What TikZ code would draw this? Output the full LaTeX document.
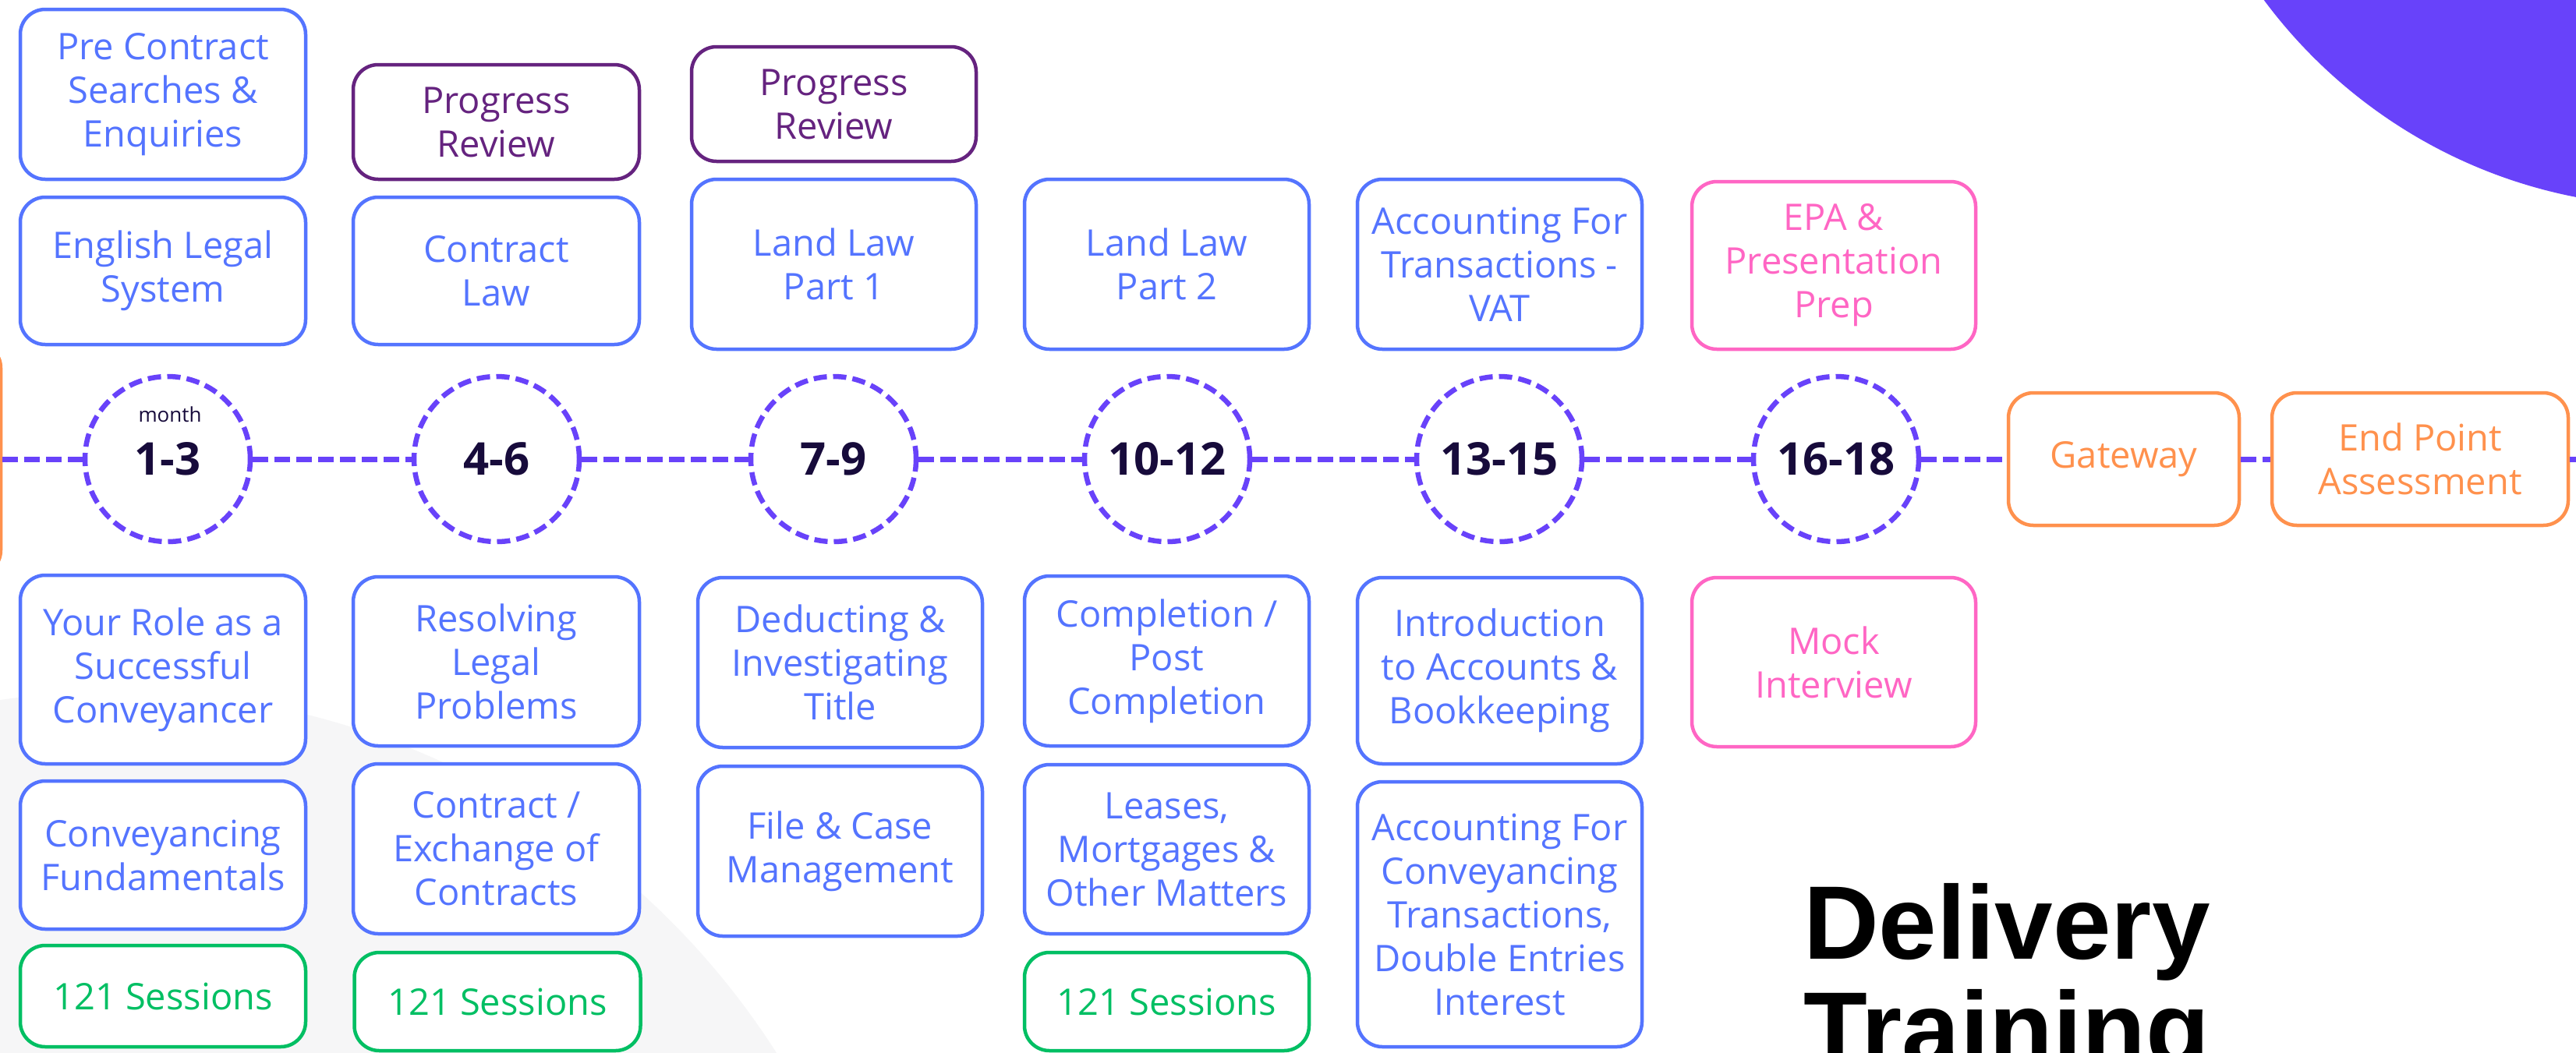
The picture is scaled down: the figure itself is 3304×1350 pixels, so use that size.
\documentclass[tikz,border=0pt]{standalone}
\usepackage{fontspec}
\setmainfont{Open Sans}
\newfontfamily\titlefont{Liberation Sans}
\definecolor{cblue}{HTML}{5474FF}
\definecolor{cpurple}{HTML}{65237F}
\definecolor{cpink}{HTML}{FF66C4}
\definecolor{cgreen}{HTML}{00BF63}
\definecolor{corange}{HTML}{FF914D}
\definecolor{cviolet}{HTML}{6842FA}
\definecolor{cnavy}{HTML}{170B3B}
\definecolor{cgray}{HTML}{F6F6F7}
\begin{document}
\begin{tikzpicture}[x=1pt,y=-1pt,
  box/.style={draw, line width=4.5pt, rounded corners=32pt, fill=white, align=center,
    inner sep=0pt, font=\fontsize{47}{56}\selectfont},
  bluebox/.style={box, draw=cblue, text=cblue},
  purplebox/.style={box, draw=cpurple, text=cpurple},
  pinkbox/.style={box, draw=cpink, text=cpink},
  greenbox/.style={box, draw=cgreen, text=cgreen},
  orangebox/.style={box, draw=corange, text=corange},
  month/.style={circle, draw=cviolet, line width=6.5pt, dash pattern=on 17pt off 8pt,
    minimum size=212pt, inner sep=0pt, fill=white, text=cnavy,
    font=\fontsize{58}{60}\selectfont\bfseries},
  tl/.style={draw=cviolet, line width=7pt, dash pattern=on 20pt off 8pt}
]
\useasboundingbox (0,0) rectangle (3304,1350);
\clip (0,0) rectangle (3304,1350);
\fill[white] (0,0) rectangle (3304,1350);
\fill[cgray] (150,1890) circle[radius=1003];
\fill[cviolet] (3430,-390) circle[radius=655];

% column 1
\node[bluebox, minimum width=366pt, minimum height=218pt] (a1) at (209,121) {Pre Contract\\Searches \&\\Enquiries};
\node[bluebox, minimum width=366pt, minimum height=189pt] (a2) at (209,347.5) {English Legal\\System};
\node[bluebox, minimum width=366pt, minimum height=242pt] (a3) at (209,859) {Your Role as a\\Successful\\Conveyancer};
\node[bluebox, minimum width=366pt, minimum height=190pt] (a4) at (209,1097) {Conveyancing\\Fundamentals};
\node[greenbox, minimum width=366pt, minimum height=130pt] (a5) at (209,1278) {121 Sessions};
% column 2
\node[purplebox, minimum width=367pt, minimum height=147pt] (b1) at (636.5,156.5) {Progress\\Review};
\node[bluebox, minimum width=367pt, minimum height=189pt] (b2) at (636.5,347.5) {Contract\\Law};
\node[bluebox, minimum width=367pt, minimum height=217pt] (b3) at (636.5,848.5) {Resolving\\Legal\\Problems};
\node[bluebox, minimum width=367pt, minimum height=218pt] (b4) at (636.5,1089) {Contract /\\Exchange of\\Contracts};
\node[greenbox, minimum width=367pt, minimum height=126pt] (b5) at (638,1285) {121 Sessions};
% column 3
\node[purplebox, minimum width=365pt, minimum height=147pt] (c1b) at (1069.5,133.5) {Progress\\Review};
\node[bluebox, minimum width=365pt, minimum height=218pt] (c2) at (1069.5,339) {Land Law\\Part 1};
\node[bluebox, minimum width=365pt, minimum height=218pt] (c3) at (1077.5,850) {Deducting \&\\Investigating\\Title};
\node[bluebox, minimum width=365pt, minimum height=218pt] (c4) at (1077.5,1092) {File \& Case\\Management};
% column 4
\node[bluebox, minimum width=365pt, minimum height=218pt] (d1) at (1496.5,339) {Land Law\\Part 2};
\node[bluebox, minimum width=365pt, minimum height=218pt] (d2) at (1496.5,848) {Completion /\\Post\\Completion};
\node[bluebox, minimum width=365pt, minimum height=217pt] (d3) at (1496.5,1089.5) {Leases,\\Mortgages \&\\Other Matters};
\node[greenbox, minimum width=365pt, minimum height=126pt] (d4) at (1496.5,1285) {121 Sessions};
% column 5
\node[bluebox, minimum width=365pt, minimum height=218pt] (e1) at (1923.5,339) {Accounting For\\Transactions -\\VAT};
\node[bluebox, minimum width=365pt, minimum height=239pt] (e2) at (1923.5,860.5) {Introduction\\to Accounts \&\\Bookkeeping};
\node[bluebox, minimum width=365pt, minimum height=340pt] (e3) at (1923.5,1173) {Accounting For\\Conveyancing\\Transactions,\\Double Entries\\Interest};
% column 6
\node[pinkbox, minimum width=364pt, minimum height=215pt] (f1) at (2352,340.5) {EPA \&\\Presentation\\Prep};
\node[pinkbox, minimum width=364pt, minimum height=217pt] (f2) at (2352,849.5) {Mock\\Interview};

% timeline
\node[orangebox, minimum width=300pt, minimum height=298pt] (start) at (-149,589) {};
\node[month] (m1) at (215,589) {1-3};
\node[month] (m2) at (637,589) {4-6};
\node[month] (m3) at (1069,589) {7-9};
\node[month] (m4) at (1497,589) {10-12};
\node[month] (m5) at (1923,589) {13-15};
\node[month] (m6) at (2355,589) {16-18};
\node[text=cnavy, font=\fontsize{26}{28}\selectfont, inner sep=0pt] (mlabel) at (218,532) {month};
\node[orangebox, minimum width=296pt, minimum height=170pt] (gw) at (2724,589) {Gateway};
\node[orangebox, minimum width=380pt, minimum height=170pt] (epa) at (3104,589) {End Point\\Assessment};
\coordinate (rend) at (3320,589);

\draw[tl] (start) -- (m1);
\draw[tl] (m1) -- (m2);
\draw[tl] (m2) -- (m3);
\draw[tl] (m3) -- (m4);
\draw[tl] (m4) -- (m5);
\draw[tl] (m5) -- (m6);
\draw[tl] (m6) -- (gw);
\draw[tl] (gw) -- (epa);
\draw[tl] (epa) -- (rend);

% title
\node[anchor=north west, inner sep=0pt, align=left,
  font=\titlefont\bfseries\fontsize{134}{136}\selectfont] (title) at (2313,1133) {Delivery\\Training};
\end{tikzpicture}
\end{document}
